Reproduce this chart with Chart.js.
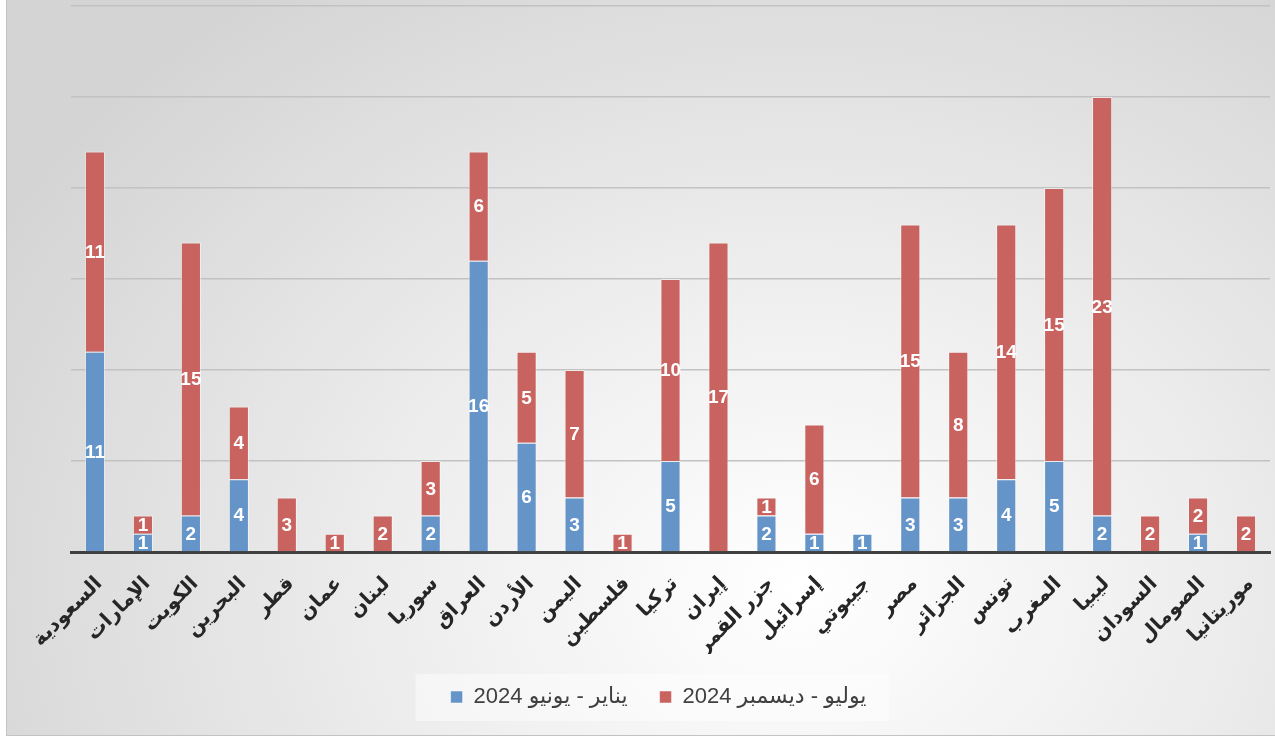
<!DOCTYPE html>
<html lang="ar">
<head>
<meta charset="utf-8">
<script src="https://cdn.jsdelivr.net/npm/chart.js@4.4.1/dist/chart.umd.min.js"></script>
<style>
  html, body { margin: 0; padding: 0; width: 1275px; height: 737px; overflow: hidden; background: #fff; }
  #box {
    position: absolute; left: 6px; top: -1px; width: 1275px; height: 737px;
    box-sizing: border-box; border: 1px solid #c3c3c3;
    background: radial-gradient(ellipse 72% 100% at 62% 80%, #ffffff 0%, #ededed 45%, #d4d4d4 100%);
  }
  #wrap { position: absolute; left: 0; top: 0; width: 1275px; height: 737px; }
</style>
</head>
<body>
<div id="box"></div>
<div id="wrap"><canvas id="chart" width="1275" height="737"></canvas></div>
<script>
// ---------------------------------------------------------
// DATOS
// ---------------------------------------------------------
const categories = [
  'السعودية', 'الإمارات', 'الكويت', 'البحرين', 'قطر', 'عمان', 'لبنان', 'سوريا',
  'العراق', 'الأردن', 'اليمن', 'فلسطين', 'تركيا', 'إيران', 'جزر القمر',
  'إسرائيل', 'جيبوتي', 'مصر', 'الجزائر', 'تونس', 'المغرب', 'ليبيا',
  'السودان', 'الصومال', 'موريتانيا'
];
const seriesNames = ['يناير - يونيو 2024', 'يوليو - ديسمبر 2024'];
const firstHalf  = [11, 1, 2, 4, 0, 0, 0, 2, 16, 6, 3, 0, 5, 0, 2, 1, 1, 3, 3, 4, 5, 2, 0, 1, 0];
const secondHalf = [11, 1, 15, 4, 3, 1, 2, 3, 6, 5, 7, 1, 10, 17, 1, 6, 0, 15, 8, 14, 15, 23, 2, 2, 2];
const yTicks = [0, 5, 10, 15, 20, 25, 30];

const FONT = 'Arial, "Liberation Sans", "DejaVu Sans", sans-serif';

// etiquetas blancas en el centro de cada tramo
const valueLabels = {
  id: 'valueLabels',
  afterDatasetsDraw(chart) {
    const ctx = chart.ctx;
    ctx.save();
    ctx.font = 'bold 19px ' + FONT;
    ctx.fillStyle = '#ffffff';
    ctx.textAlign = 'center';
    ctx.textBaseline = 'middle';
    chart.data.datasets.forEach((ds, i) => {
      chart.getDatasetMeta(i).data.forEach((bar, j) => {
        const v = ds.data[j];
        if (!v) return;
        ctx.fillText(String(v), bar.x, (bar.y + bar.base) / 2 + 1);
      });
    });
    ctx.restore();
  }
};

// panel claro detrás de la leyenda
const legendPanel = {
  id: 'legendPanel',
  beforeDraw(chart) {
    const hb = chart.legend && chart.legend.legendHitBoxes;
    if (!hb || !hb.length) return;
    const ctx = chart.ctx;
    const l = Math.min(...hb.map(b => b.left)) - 35;
    const r = Math.max(...hb.map(b => b.left + b.width)) + 23;
    const mid = hb[0].top + hb[0].height / 2;
    ctx.save();
    ctx.fillStyle = 'rgba(255,255,255,0.45)';
    ctx.fillRect(l, mid - 23, r - l, 47);
    ctx.restore();
  }
};

new Chart(document.getElementById('chart'), {
  type: 'bar',
  data: {
    labels: categories,
    datasets: [
      {
        label: seriesNames[0],
        data: firstHalf.map(v => v || null),
        backgroundColor: '#6594c9',
        borderColor: 'rgba(255,255,255,0.5)',
        borderWidth: 1,
        categoryPercentage: 1,
        barPercentage: 0.42
      },
      {
        label: seriesNames[1],
        data: secondHalf.map(v => v || null),
        backgroundColor: '#c9635f',
        borderColor: 'rgba(255,255,255,0.5)',
        borderWidth: 1,
        categoryPercentage: 1,
        barPercentage: 0.42
      }
    ]
  },
  options: {
    responsive: false,
    animation: false,
    layout: { padding: { left: 47, right: 5, top: 6, bottom: 19 } },
    plugins: {
      tooltip: { enabled: false },
      legend: {
        position: 'bottom',
        labels: {
          boxWidth: 12, boxHeight: 12, padding: 32,
          color: '#404040',
          font: { family: FONT, size: 22 }
        }
      }
    },
    scales: {
      x: {
        stacked: true,
        grid: { display: false, drawTicks: false },
        border: { display: true, color: '#404040', width: 3 },
        ticks: {
          minRotation: 45, maxRotation: 45, autoSkip: false, padding: 20, labelOffset: 4,
          color: '#262626',
          font: { family: FONT, size: 20, weight: 'bold' }
        },
        afterFit(scale) {
          scale.height = 102;
          scale.paddingLeft = 0;
          scale.paddingRight = 0;
        }
      },
      y: {
        stacked: true,
        min: yTicks[0], max: yTicks[yTicks.length - 1],
        afterBuildTicks(scale) { scale.ticks = yTicks.map(v => ({ value: v })); },
        grid: { color: '#c2c2c2', lineWidth: 1.5, drawTicks: false },
        border: { display: false },
        ticks: { display: false },
        afterFit(scale) { scale.width = 24; }
      }
    }
  },
  plugins: [legendPanel, valueLabels]
});
</script>
</body>
</html>
